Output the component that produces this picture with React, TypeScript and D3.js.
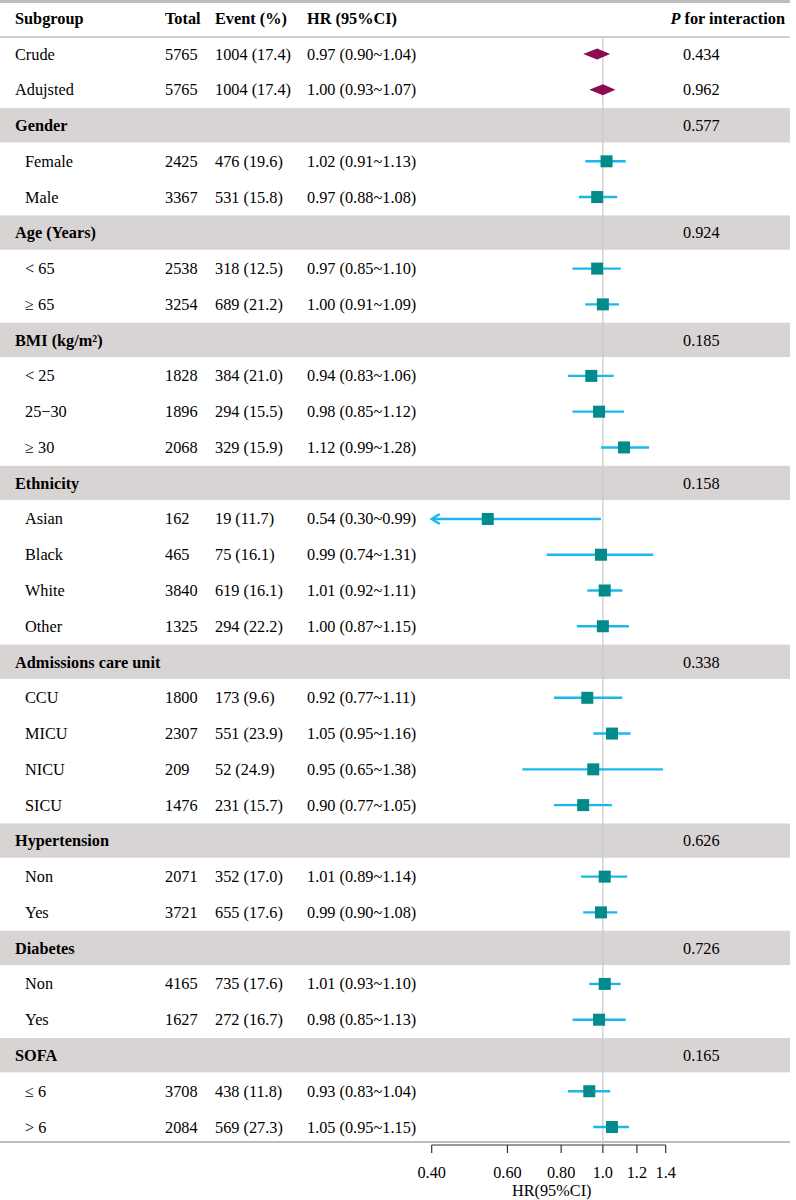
import * as d3 from "d3";

// Forest plot of subgroup hazard ratios
const subgroups = [
  "Crude", "Adujsted",
  "Gender", "Female", "Male",
  "Age (Years)", "< 65", "≥ 65",
  "BMI (kg/m²)", "< 25", "25−30", "≥ 30",
  "Ethnicity", "Asian", "Black", "White", "Other",
  "Admissions care unit", "CCU", "MICU", "NICU", "SICU",
  "Hypertension", "Non", "Yes",
  "Diabetes", "Non", "Yes",
  "SOFA", "≤ 6", "> 6",
];
// o = overall estimate, g = group heading, s = subgroup level
const rowKinds = [
  "o", "o",
  "g", "s", "s",
  "g", "s", "s",
  "g", "s", "s", "s",
  "g", "s", "s", "s", "s",
  "g", "s", "s", "s", "s",
  "g", "s", "s",
  "g", "s", "s",
  "g", "s", "s",
];
const totals = [
  5765, 5765,
  null, 2425, 3367,
  null, 2538, 3254,
  null, 1828, 1896, 2068,
  null, 162, 465, 3840, 1325,
  null, 1800, 2307, 209, 1476,
  null, 2071, 3721,
  null, 4165, 1627,
  null, 3708, 2084,
];
const events = [
  1004, 1004,
  null, 476, 531,
  null, 318, 689,
  null, 384, 294, 329,
  null, 19, 75, 619, 294,
  null, 173, 551, 52, 231,
  null, 352, 655,
  null, 735, 272,
  null, 438, 569,
];
const eventPct = [
  17.4, 17.4,
  null, 19.6, 15.8,
  null, 12.5, 21.2,
  null, 21.0, 15.5, 15.9,
  null, 11.7, 16.1, 16.1, 22.2,
  null, 9.6, 23.9, 24.9, 15.7,
  null, 17.0, 17.6,
  null, 17.6, 16.7,
  null, 11.8, 27.3,
];
const hr = [
  0.97, 1.0,
  null, 1.02, 0.97,
  null, 0.97, 1.0,
  null, 0.94, 0.98, 1.12,
  null, 0.54, 0.99, 1.01, 1.0,
  null, 0.92, 1.05, 0.95, 0.9,
  null, 1.01, 0.99,
  null, 1.01, 0.98,
  null, 0.93, 1.05,
];
const lower = [
  0.9, 0.93,
  null, 0.91, 0.88,
  null, 0.85, 0.91,
  null, 0.83, 0.85, 0.99,
  null, 0.3, 0.74, 0.92, 0.87,
  null, 0.77, 0.95, 0.65, 0.77,
  null, 0.89, 0.9,
  null, 0.93, 0.85,
  null, 0.83, 0.95,
];
const upper = [
  1.04, 1.07,
  null, 1.13, 1.08,
  null, 1.1, 1.09,
  null, 1.06, 1.12, 1.28,
  null, 0.99, 1.31, 1.11, 1.15,
  null, 1.11, 1.16, 1.38, 1.05,
  null, 1.14, 1.08,
  null, 1.1, 1.13,
  null, 1.04, 1.15,
];
const pInteraction = [
  "0.434", "0.962",
  "0.577", "", "",
  "0.924", "", "",
  "0.185", "", "", "",
  "0.158", "", "", "", "",
  "0.338", "", "", "", "",
  "0.626", "", "",
  "0.726", "", "",
  "0.165", "", "",
];
const tickValues = [0.4, 0.6, 0.8, 1.0, 1.2, 1.4];
const tickLabels = ["0.40", "0.60", "0.80", "1.0", "1.2", "1.4"];

const W = 796;
const H = 1200;
const FONT = "'Liberation Serif', 'Times New Roman', serif";
const BAND = "#d9d4d4";
const CI_COLOR = "#1ab8ec";
const BOX_COLOR = "#038b8b";
const DIAMOND_COLOR = "#8a0c54";

const cols = { label: 15, indent: 25, total: 165, event: 215, hr: 307, p: 683, pRight: 785 };

export default function App() {
  const rowY = d3
    .scaleLinear()
    .domain([0, subgroups.length - 1])
    .range([54, 1127]);
  const x = d3.scaleLog().domain([0.4, 1.4]).range([431.7, 665.7]);
  const axisY = 1145;
  const rowH = 35.8;

  const fmt2 = d3.format(".2f");
  const fmt1 = d3.format(".1f");

  return (
    <svg
      width={W}
      height={H}
      style={{ position: "absolute", left: 0, top: 0, fontFamily: FONT, fontSize: 16.3 }}
    >
      <rect width={W} height={H} fill="#fff" />

      {/* group heading bands */}
      {subgroups.map((_, i) =>
        rowKinds[i] === "g" ? (
          <rect
            key={`band-${i}`}
            x={0}
            y={rowY(i) - rowH / 2 + 0.5}
            width={790}
            height={rowH - 1.5}
            fill={BAND}
          />
        ) : null
      )}

      {/* table rules */}
      <line x1={0} x2={790} y1={1.5} y2={1.5} stroke="#bdbdbd" strokeWidth={3} />
      <line x1={0} x2={790} y1={37} y2={37} stroke="#cfcfcf" strokeWidth={2} />
      <line x1={0} x2={790} y1={1142} y2={1142} stroke="#bdbdbd" strokeWidth={2} />

      {/* reference line at HR = 1 */}
      <line x1={x(1)} x2={x(1)} y1={37} y2={axisY} stroke="#c8c8c8" strokeWidth={1.2} />

      {/* header */}
      <g fontWeight="bold" dominantBaseline="central">
        <text x={cols.label} y={18}>Subgroup</text>
        <text x={cols.total} y={18}>Total</text>
        <text x={cols.event} y={18}>Event (%)</text>
        <text x={cols.hr} y={18}>HR (95%CI)</text>
        <text x={cols.pRight} y={18} textAnchor="end">
          <tspan fontStyle="italic">P</tspan> for interaction
        </text>
      </g>

      {/* rows */}
      {subgroups.map((name, i) => {
        const y = rowY(i);
        const kind = rowKinds[i];
        const h = hr[i];
        const lo = lower[i];
        const hi = upper[i];
        return (
          <g key={`row-${i}`} dominantBaseline="central">
            <text
              x={kind === "s" ? cols.indent : cols.label}
              y={y}
              fontWeight={kind === "g" ? "bold" : "normal"}
            >
              {name}
            </text>
            {totals[i] != null && <text x={cols.total} y={y}>{totals[i]}</text>}
            {events[i] != null && (
              <text x={cols.event} y={y}>{`${events[i]} (${fmt1(eventPct[i] as number)})`}</text>
            )}
            {h != null && (
              <text x={cols.hr} y={y}>
                {`${fmt2(h)} (${fmt2(lo as number)}~${fmt2(hi as number)})`}
              </text>
            )}
            {pInteraction[i] && <text x={cols.p} y={y}>{pInteraction[i]}</text>}
          </g>
        );
      })}

      {/* estimates */}
      {subgroups.map((_, i) => {
        const h = hr[i];
        if (h == null) return null;
        const y = rowY(i);
        const lo = lower[i] as number;
        const hi = upper[i] as number;
        if (rowKinds[i] === "o") {
          const pts = [
            [x(lo), y],
            [x(h), y - 5.5],
            [x(hi), y],
            [x(h), y + 5.5],
          ];
          return <polygon key={`est-${i}`} points={pts.map((p) => p.join(",")).join(" ")} fill={DIAMOND_COLOR} />;
        }
        const clipped = lo < x.domain()[0];
        const x0 = x(Math.max(lo, x.domain()[0]));
        const x1 = x(Math.min(hi, x.domain()[1]));
        return (
          <g key={`est-${i}`}>
            <line x1={x0} x2={x1} y1={y} y2={y} stroke={CI_COLOR} strokeWidth={2.4} />
            {clipped && (
              <polyline
                points={`${x0 + 8},${y - 5} ${x0},${y} ${x0 + 8},${y + 5}`}
                fill="none"
                stroke={CI_COLOR}
                strokeWidth={2.4}
              />
            )}
            <rect x={x(h) - 6} y={y - 6} width={12} height={12} fill={BOX_COLOR} />
          </g>
        );
      })}

      {/* x axis */}
      <g>
        <line x1={x(0.4)} x2={x(1.4)} y1={axisY} y2={axisY} stroke="#333" strokeWidth={1.2} />
        {tickValues.map((t, i) => (
          <g key={`tick-${i}`}>
            <line x1={x(t)} x2={x(t)} y1={axisY} y2={axisY + 8} stroke="#333" strokeWidth={1.2} />
            <text x={x(t)} y={1172} textAnchor="middle" dominantBaseline="central">
              {tickLabels[i]}
            </text>
          </g>
        ))}
        <text x={(x(0.4) + x(1.4)) / 2 + 3} y={1190} textAnchor="middle" dominantBaseline="central">
          HR(95%CI)
        </text>
      </g>
    </svg>
  );
}
